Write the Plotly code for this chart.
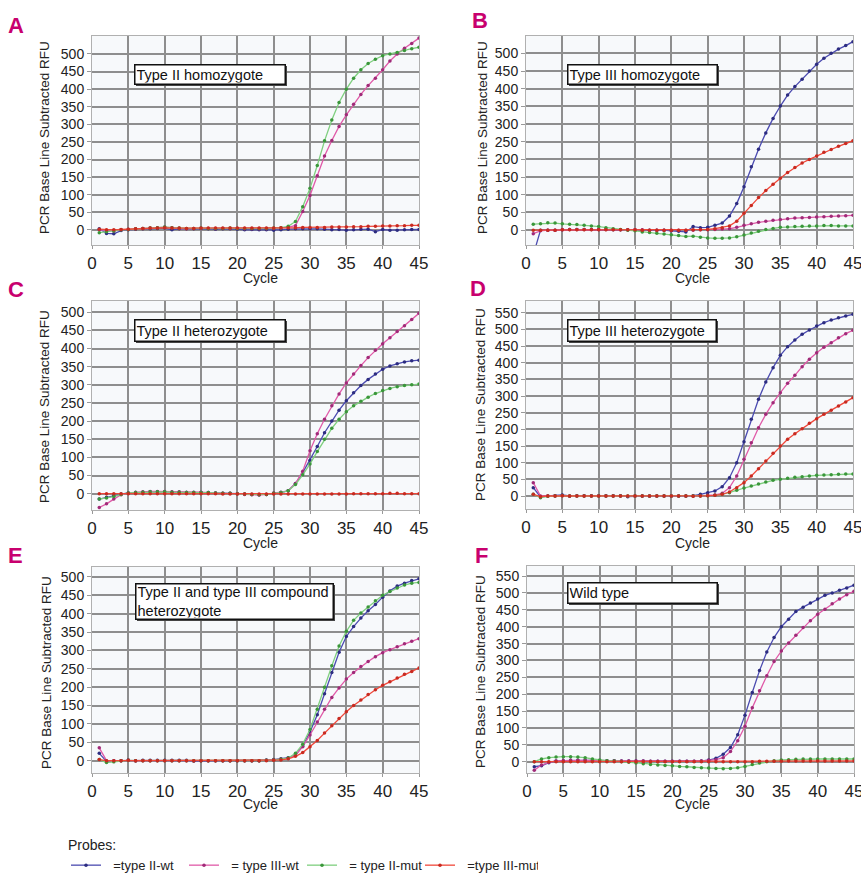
import plotly.graph_objects as go

W, H = 861, 875
cycles = list(range(1, 46))
xticks = list(range(0, 50, 5))

NB = "\u00a0"
probe_names = ["=type II-wt", "= type III-wt", "= type II-mut", "=type III-mut"]
line_colors = ["#4b4bb0", "#e05aa8", "#7fcf7f", "#f0483a"]
dot_colors = ["#2c2c80", "#a02a78", "#3a963a", "#c82a20"]

panel_letters = ["A", "B", "C", "D", "E", "F"]
panel_titles = ["Type II homozygote", "Type III homozygote", "Type II heterozygote",
                "Type III heterozygote", "Type II and type III compound<br>heterozygote", "Wild type"]

# ---- data (RFU per cycle 1..45) ----
A_wt2 = [3,-10,-11,-2,0,2,3,3,4,5,0,3,3,3,4,3,2,3,3,2,0,1,0,0,-1,0,2,3,3,3,3,2,0,1,-1,0,2,2,-5,1,-1,-1,0,1,1]
A_wt3 = [0,-2,-3,0,2,3,4,5,6,8,6,4,3,4,4,4,3,4,4,4,3,3,3,3,4,5,8,12,52,98,154,210,254,294,327,357,385,410,431,455,480,500,516,530,545]
A_mut2 = [-8,-5,-3,0,1,3,4,5,6,8,6,5,4,4,5,4,4,4,5,4,4,4,4,4,5,6,10,24,66,118,183,253,312,362,400,431,455,473,485,495,500,504,510,515,519]
A_mut3 = [2,0,0,1,2,3,4,5,5,6,5,5,4,4,5,5,5,5,5,5,5,5,5,5,5,6,6,6,7,7,7,7,8,8,8,9,9,10,10,11,11,12,12,13,13]

B_wt2 = [-70,0,0,0,1,2,2,2,2,2,2,1,1,1,1,0,0,0,0,-2,-3,-5,10,7,8,14,20,40,75,123,179,229,275,316,351,382,406,427,450,469,486,500,512,522,533]
B_wt3 = [-10,-2,0,0,1,2,2,2,2,2,2,2,1,1,1,1,0,0,0,0,0,0,0,1,1,2,3,4,8,14,18,22,25,28,30,32,34,35,36,37,38,39,40,41,42]
B_mut2 = [17,18,21,20,18,17,16,14,12,10,7,4,2,0,-2,-5,-7,-9,-11,-13,-15,-18,-17,-20,-22,-23,-23,-22,-19,-14,-8,-3,2,5,8,9,10,11,12,12,13,13,12,12,12]
B_mut3 = [0,0,0,0,1,1,1,1,1,1,1,1,1,1,1,0,0,0,0,0,0,0,1,1,2,4,7,12,25,48,70,92,112,130,147,163,177,190,200,210,220,228,237,245,253]

C_wt2 = [-15,-10,-6,-1,2,3,4,5,5,5,4,4,3,3,3,3,2,1,1,0,-1,-2,-3,-2,1,3,8,28,58,92,130,168,200,230,256,278,298,315,330,343,352,358,363,366,368]
C_wt3 = [-38,-28,-15,-3,2,4,5,6,6,6,5,5,4,4,4,3,2,1,1,0,-2,-3,-4,-2,2,4,8,28,62,118,165,205,242,275,305,330,353,375,395,413,430,447,463,480,497]
C_mut2 = [-15,-12,-8,-2,2,3,4,5,5,5,4,4,3,3,3,3,2,1,1,0,-1,-2,-3,-2,1,3,8,25,52,82,116,150,180,205,226,242,255,266,276,284,290,295,298,300,302]
C_mut3 = [0,0,0,0,0,0,0,0,0,0,0,0,0,0,0,0,0,-1,-1,-1,-1,-1,-1,-1,-1,-1,-1,-1,-1,-1,-1,-1,-1,-1,-1,0,0,0,0,0,1,1,0,0,0]

D_wt2 = [25,-3,0,1,3,0,1,1,1,1,1,1,1,-2,0,0,0,0,0,0,0,0,1,5,10,15,28,55,100,163,230,290,342,385,422,448,468,485,498,510,520,528,535,540,545]
D_wt3 = [40,0,0,0,1,-1,0,0,0,0,0,0,0,-1,0,0,0,0,0,0,0,0,0,1,2,3,8,25,60,110,160,205,245,280,310,338,362,388,410,430,446,460,475,487,497]
D_mut2 = [5,-5,-1,0,1,0,0,0,0,0,0,0,0,0,0,0,0,0,0,0,0,0,0,0,1,2,5,10,17,24,30,36,42,47,50,53,56,58,60,62,63,64,65,66,66]
D_mut3 = [5,-2,0,0,1,0,0,0,0,0,0,0,0,0,0,0,0,0,0,0,0,0,-1,0,1,2,5,12,25,40,60,82,105,128,150,170,187,202,218,232,245,257,270,282,295]

E_wt2 = [20,-2,0,0,2,0,1,1,1,1,1,1,1,-1,0,0,0,0,0,0,0,0,0,2,3,5,8,15,40,78,125,182,240,295,338,365,388,408,425,445,462,475,483,490,495]
E_wt3 = [35,0,-1,0,1,-1,0,0,0,0,0,0,0,-1,0,0,0,0,0,0,0,0,0,1,2,4,6,15,38,70,105,140,172,198,222,240,256,270,283,294,302,310,318,325,332]
E_mut2 = [3,-5,-3,0,1,0,0,0,0,0,0,0,0,0,0,0,0,0,0,0,0,0,0,1,2,4,7,20,45,85,140,200,258,312,352,382,402,418,435,450,460,470,478,483,485]
E_mut3 = [3,0,0,0,1,0,0,0,0,0,0,0,0,0,0,0,0,0,0,0,0,0,0,0,1,2,5,12,22,38,55,75,95,115,133,150,165,180,193,205,215,225,235,243,252]

F_wt2 = [-15,-12,-3,2,3,4,4,4,4,3,3,3,2,2,2,2,1,1,1,1,1,1,1,2,5,10,22,42,80,138,205,270,325,368,400,422,445,458,470,482,493,500,508,515,523]
F_wt3 = [-25,-10,-2,2,3,4,4,4,4,3,3,3,2,2,2,2,1,1,1,1,1,1,1,2,4,6,12,30,62,105,160,210,255,297,328,352,375,398,418,437,452,468,482,495,505]
F_mut2 = [0,8,12,14,15,15,14,12,8,5,3,2,0,-2,-4,-6,-8,-10,-11,-12,-14,-15,-17,-18,-19,-20,-21,-20,-18,-14,-8,-4,0,3,5,6,7,8,8,8,8,8,8,8,8]
F_mut3 = [0,0,0,0,0,0,0,0,0,0,0,0,0,0,0,0,0,0,0,0,0,0,0,0,0,0,0,0,0,0,0,1,1,1,1,2,2,2,2,2,2,2,2,2,2]

panels_data = [
    [A_wt2, A_wt3, A_mut2, A_mut3],
    [B_wt2, B_wt3, B_mut2, B_mut3],
    [C_wt2, C_wt3, C_mut2, C_mut3],
    [D_wt2, D_wt3, D_mut2, D_mut3],
    [E_wt2, E_wt3, E_mut2, E_mut3],
    [F_wt2, F_wt3, F_mut2, F_mut3],
]

# ---- layout geometry (pixels) ----
boxes = [  # left, right, top, bottom
    (92, 419, 36, 245), (526, 853, 36, 245),
    (92, 419, 301, 510), (526, 853, 301, 509),
    (92, 419, 567, 773), (527, 854, 566, 773),
]
yranges = [(-43, 551), (-42, 549), (-45, 531), (-39, 585), (-33.5, 527), (-33.5, 580)]
ymaxtick = [500, 500, 500, 550, 500, 550]
letter_pos = [(16, 26), (480, 20), (16, 289), (478, 288), (15, 555), (482, 555)]
ytitle_pos = [(45, 138), (483, 138), (45, 407), (480, 405), (46, 673), (480, 672)]
cycle_pos = [(260, 278), (692, 278), (260, 543), (692, 543), (260, 804), (692, 804)]
tbox = [(134, 285, 64, 84), (567, 717, 64, 84), (134, 285, 319, 341),
        (567, 716, 319, 341), (135, 333, 583, 619), (567, 717, 582, 603)]

FONT = "Liberation Sans, Arial, sans-serif"

def px(x):
    return x / W

def py(y):
    return 1 - y / H

fig = go.Figure()
annotations = []
shapes = []

for i, series in enumerate(panels_data):
    n = "" if i == 0 else str(i + 1)
    for k, vals in enumerate(series):
        fig.add_trace(go.Scatter(
            x=cycles, y=vals, mode="lines+markers",
            name=NB * 2 + probe_names[k], showlegend=(i == 0), legendrank=k,
            line=dict(color=line_colors[k], width=1.3),
            marker=dict(color=dot_colors[k], size=3.5),
            xaxis="x" + n, yaxis="y" + n,
        ))
    l, r, t, b = boxes[i]
    fig.layout["xaxis" + n] = dict(
        domain=[px(l), px(r)], anchor="y" + n, range=[0, 45], automargin=False,
        tickvals=xticks, ticks="outside", ticklen=3, tickcolor="#999999",
        ticklabeloverflow="allow",
        showgrid=True, gridcolor="#8e8e8e", gridwidth=1.5, zeroline=False,
        showline=True, mirror=True, linecolor="#b0b0b0", linewidth=1,
        tickfont=dict(family=FONT, size=17, color="#222222"),
    )
    lo, hi = yranges[i]
    fig.layout["yaxis" + n] = dict(
        domain=[py(b), py(t)], anchor="x" + n, range=[lo, hi], automargin=False,
        tickvals=list(range(0, ymaxtick[i] + 1, 50)), ticks="outside", ticklen=4,
        tickcolor="#999999",
        showgrid=True, gridcolor="#8e8e8e", gridwidth=1.5, zeroline=False,
        showline=True, mirror=True, linecolor="#b0b0b0", linewidth=1,
        tickfont=dict(family=FONT, size=14, color="#222222"),
    )
    lx, ly = letter_pos[i]
    annotations.append(dict(text="<b>%s</b>" % panel_letters[i], x=px(lx), y=py(ly),
                            xref="paper", yref="paper", showarrow=False,
                            xanchor="center", yanchor="middle",
                            font=dict(family=FONT, size=22, color="#c8006e")))
    tx, ty = ytitle_pos[i]
    annotations.append(dict(text="PCR Base Line Subtracted RFU", x=px(tx), y=py(ty),
                            xref="paper", yref="paper", showarrow=False, textangle=-90,
                            xanchor="center", yanchor="middle",
                            font=dict(family=FONT, size=13.5, color="#222222")))
    cx, cy = cycle_pos[i]
    annotations.append(dict(text="Cycle", x=px(cx), y=py(cy),
                            xref="paper", yref="paper", showarrow=False,
                            xanchor="center", yanchor="middle",
                            font=dict(family=FONT, size=14, color="#222222")))
    bl, br, bt, bb = tbox[i]
    shapes.append(dict(type="rect", xref="paper", yref="paper",
                       x0=px(bl + 2), x1=px(br + 2), y0=py(bb + 2), y1=py(bt + 2),
                       fillcolor="#444444", line=dict(width=0), layer="above"))
    annotations.append(dict(text=panel_titles[i], x=px(bl), y=py(bt),
                            xref="paper", yref="paper", xanchor="left", yanchor="top",
                            showarrow=False, align="left", valign="middle",
                            width=br - bl - 4, height=bb - bt - 4, borderpad=1,
                            bgcolor="white", bordercolor="#111111", borderwidth=1.5,
                            font=dict(family=FONT, size=14.5, color="#111111")))

fig.update_layout(
    width=W, height=H, margin=dict(l=0, r=0, t=0, b=0, autoexpand=False),
    paper_bgcolor="white", plot_bgcolor="#f7f9fb",
    annotations=annotations, shapes=shapes,
    showlegend=True,
    legend=dict(orientation="h", x=px(66), y=py(832), xanchor="left", yanchor="top",
                title=dict(text="Probes:", side="top",
                           font=dict(family=FONT, size=14, color="#222222")),
                font=dict(family=FONT, size=13, color="#222222"),
                entrywidth=73, entrywidthmode="pixels",
                tracegroupgap=0, bgcolor="rgba(0,0,0,0)"),
)

fig.write_html("out.html", config={"displayModeBar": False},
               post_script="document.body.style.margin='0';document.body.style.overflow='hidden';")
